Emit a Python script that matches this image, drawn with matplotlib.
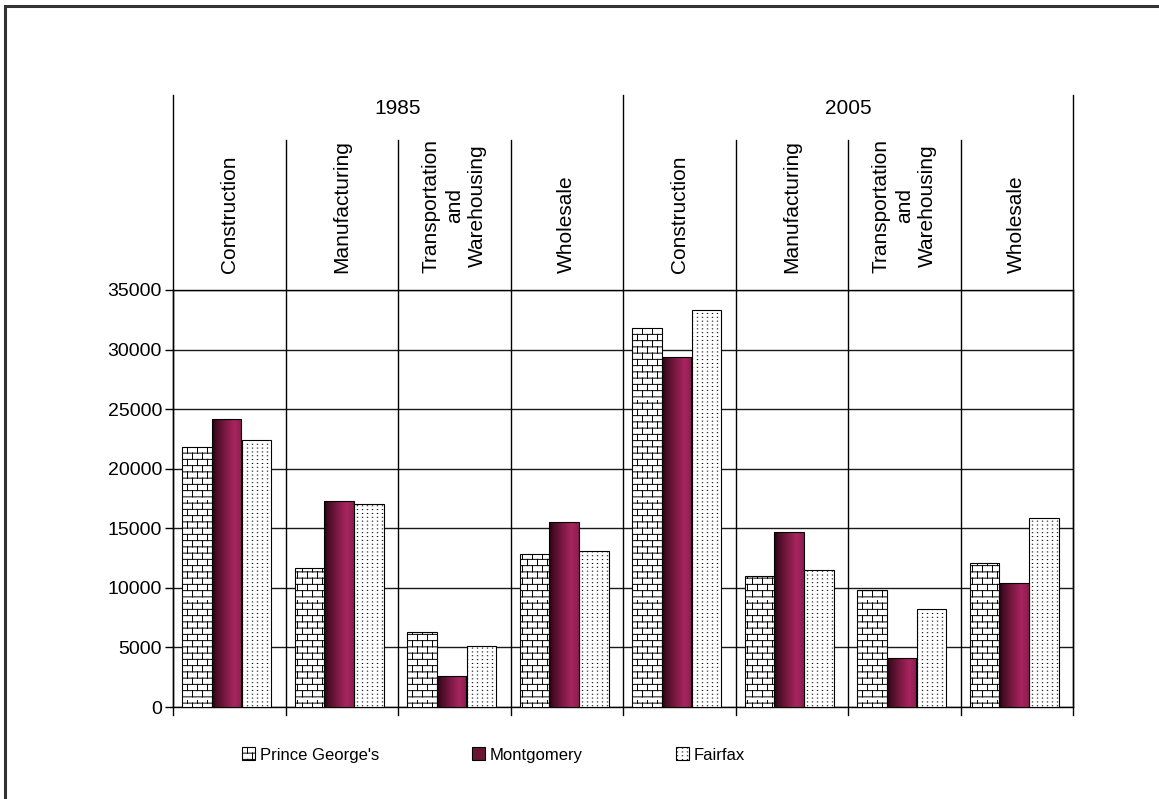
import warnings

import numpy as np
import matplotlib
matplotlib.use("Agg")
import matplotlib.pyplot as plt
import matplotlib.hatch as mhatch
import matplotlib.transforms as mtransforms
from matplotlib.path import Path
from matplotlib.patches import Patch, Rectangle
from matplotlib.colors import LinearSegmentedColormap

warnings.filterwarnings("ignore")

# ---------------------------------------------------------------- data
years = ["1985", "2005"]
sectors = ["Construction", "Manufacturing", "Transportation\nand\nWarehousing", "Wholesale"]
counties = ["Prince George's", "Montgomery", "Fairfax"]

# employment by sector: 1985 block followed by 2005 block
prince_georges = [21800, 11700, 6300, 12800, 31800, 11000, 9800, 12100]
montgomery = [24200, 17300, 2600, 15500, 29400, 14700, 4100, 10400]
fairfax = [22400, 17000, 5100, 13100, 33300, 11500, 8200, 15900]

y_ticks = [0, 5000, 10000, 15000, 20000, 25000, 30000, 35000]


# ---------------------------------------------------------------- custom hatches
class BrickHatch(mhatch.HatchPatternBase):
    """Running-bond brick pattern, selected with the 'b' hatch character."""

    cols, rows = 10, 16

    def __init__(self, hatch, density):
        k = hatch.count("b")
        self.on = k > 0
        self.num_vertices = (self.rows + self.rows * self.cols) * 2 if self.on else 0

    def set_vertices_and_codes(self, vertices, codes):
        h = 1.0 / self.rows
        bw = 1.0 / self.cols
        segs = []
        for r in range(self.rows):
            y = r * h + h / 2
            segs.append(((0.0, y), (1.0, y)))
        for r in range(self.rows):
            y0 = r * h + h / 2
            off = 0.0 if r % 2 == 0 else bw / 2
            for c in range(self.cols):
                xx = c * bw + off + bw / 4
                segs.append(((xx, y0), (xx, y0 + h)))
        vertices[:] = np.array(segs).reshape(-1, 2)
        codes[0::2] = Path.MOVETO
        codes[1::2] = Path.LINETO


class StippleHatch(mhatch.HatchPatternBase):
    """Fine regular dot grid, selected with the 'd' hatch character."""

    cols, rows = 20, 26

    def __init__(self, hatch, density):
        self.on = hatch.count("d") > 0
        self.num_vertices = self.rows * self.cols * 2 if self.on else 0

    def set_vertices_and_codes(self, vertices, codes):
        dx = 1.0 / self.cols
        dy = 1.0 / self.rows
        segs = []
        for r in range(self.rows):
            for c in range(self.cols):
                xx = c * dx + dx / 2
                yy = r * dy + dy / 2
                segs.append(((xx - 0.002, yy), (xx + 0.002, yy)))
        vertices[:] = np.array(segs).reshape(-1, 2)
        codes[0::2] = Path.MOVETO
        codes[1::2] = Path.LINETO


mhatch._hatch_types.append(BrickHatch)
mhatch._hatch_types.append(StippleHatch)

plt.rcParams["font.family"] = ["Liberation Sans", "DejaVu Sans"]
plt.rcParams["hatch.linewidth"] = 0.7

# ---------------------------------------------------------------- figure
W, H = 1159, 799
fig = plt.figure(figsize=(W / 100, H / 100), dpi=100)
fig.patch.set_facecolor("white")
ax = fig.add_axes([173 / W, 1 - 707 / H, 900 / W, 417 / H])

x = np.arange(len(prince_georges))
bw = 0.262

ax.bar(x - 0.288, prince_georges, width=bw, facecolor="white",
       edgecolor="black", hatch="b", linewidth=0.8, zorder=3)
mg_bars = ax.bar(x - 0.026, montgomery, width=bw, facecolor="none",
                 edgecolor="black", linewidth=0.8, zorder=4)
ax.bar(x + 0.243, fairfax, width=bw, facecolor="white",
       edgecolor="black", hatch="d", linewidth=0.8, zorder=3)

# shaded maroon fill for the Montgomery bars
maroon = LinearSegmentedColormap.from_list(
    "maroon",
    [(0.0, "#1c0410"), (0.12, "#440b23"), (0.45, "#7c1944"),
     (0.75, "#a82460"), (1.0, "#8a1d4f")])
grad = np.linspace(0, 1, 256).reshape(1, -1)
for rect in mg_bars:
    x0 = rect.get_x()
    w = rect.get_width()
    h = rect.get_height()
    im = ax.imshow(grad, extent=(x0, x0 + w, 0, h), aspect="auto",
                   cmap=maroon, interpolation="bilinear", zorder=3.5)
    im.set_clip_path(rect)

ax.set_xlim(-0.5, 7.5)
ax.set_ylim(0, 35000)

# axes styling
ax.set_yticks(y_ticks)
ax.set_yticklabels([str(v) for v in y_ticks])
ax.set_xticks([])
ax.yaxis.grid(True, color="#1a1a1a", linewidth=1.0)
ax.set_axisbelow(True)
ax.tick_params(axis="y", length=6, width=1, direction="out", pad=2,
               labelsize=14, colors="black")
for s in ax.spines.values():
    s.set_color("black")
    s.set_linewidth(1.0)

# category separators and header region
trans = mtransforms.blended_transform_factory(ax.transData, ax.transAxes)
for b in np.arange(len(x) + 1) - 0.5:
    top = 1.468 if b in (-0.5, 3.5, 7.5) else 1.36
    ax.plot([b, b], [-0.018, top], transform=trans, color="black",
            linewidth=1.0, clip_on=False, zorder=2)

for i, yr in enumerate(years):
    ax.text(1.5 + 4 * i, 1.436, yr, transform=trans, ha="center",
            va="center", fontsize=15)
    for j, sec in enumerate(sectors):
        ax.text(4 * i + j, 1.041, sec, transform=trans, rotation=90,
                ha="center", va="bottom", multialignment="center",
                fontsize=15, linespacing=1.27)

# legend
handles = [
    Patch(facecolor="white", edgecolor="black", hatch="b", linewidth=0.8),
    Patch(facecolor="#6a1535", edgecolor="black", linewidth=0.8),
    Patch(facecolor="white", edgecolor="black", hatch="d", linewidth=0.8),
]
fig.legend(handles, counties, loc="center left",
           bbox_to_anchor=(242 / W, 1 - 755 / H), ncol=3, frameon=False,
           fontsize=12, handlelength=0.8, handleheight=0.8,
           handletextpad=0.25, columnspacing=5.6, borderpad=0,
           borderaxespad=0)

# outer frame
fig.add_artist(Rectangle((5 / W, -0.05), 1.2, 1 - 6 / H + 0.05,
                         transform=fig.transFigure, fill=False,
                         edgecolor="#333333", linewidth=2.2))

fig.savefig("out.png", dpi=100)
